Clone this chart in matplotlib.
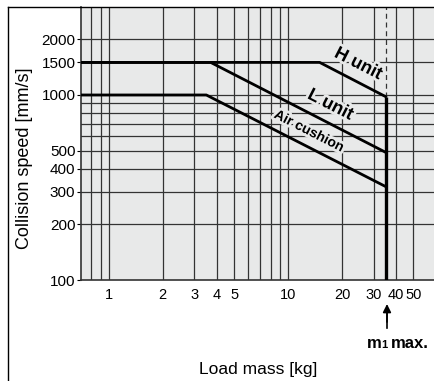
import numpy as np
import matplotlib.pyplot as plt
from matplotlib.lines import Line2D
import matplotlib.patheffects as pe

plt.rcParams['font.family'] = ['Liberation Sans', 'DejaVu Sans']

# ---- data ----
h_mass = [0.7, 15, 35]
h_speed = [1500, 1500, 980]
l_mass = [0.7, 3.7, 35]
l_speed = [1500, 1500, 490]
air_mass = [0.7, 3.5, 35]
air_speed = [1000, 1000, 320]
m1_max = 35

x_grid = [0.8, 0.9, 1, 2, 3, 4, 5, 6, 7, 8, 9, 10, 20, 30, 40, 50]
y_grid = [200, 300, 400, 500, 600, 700, 800, 900, 1000, 1500, 2000]
x_ticks = [1, 2, 3, 4, 5, 10, 20, 30, 40, 50]
y_ticks = [100, 200, 300, 400, 500, 1000, 1500, 2000]

BG = '#e8e9e9'
GRID = '#333333'

W, H = 435, 381
fig = plt.figure(figsize=(W / 100, H / 100), dpi=100)
ax = fig.add_axes([81 / W, 1 - 280 / H, 1 - 81 / W, (280 - 6.7) / H])
ax.set_facecolor(BG)
ax.set_xscale('log')
ax.set_yscale('log')
ax.set_xlim(0.7, 66)
ax.set_ylim(100, 3000)

for xv in x_grid:
    ax.axvline(xv, color=GRID, lw=0.9, zorder=1)
for yv in y_grid:
    ax.axhline(yv, color=GRID, lw=0.9, zorder=1)

# curves
ax.plot(h_mass, h_speed, color='black', lw=2, zorder=3)
ax.plot(l_mass, l_speed, color='black', lw=2, zorder=3)
ax.plot(air_mass, air_speed, color='black', lw=2, zorder=3)
ax.plot([m1_max, m1_max], [100, h_speed[-1]], color='black', lw=2.4, zorder=3,
        solid_capstyle='butt')
ax.plot([m1_max, m1_max], [h_speed[-1], 3000], color=GRID, lw=0.9,
        ls=(0, (4, 3)), zorder=2)

halo = [pe.withStroke(linewidth=4, foreground=BG)]
ax.text(24.6, 1471, 'H unit', rotation=-27, ha='center', va='center',
        fontsize=13, fontweight='bold', zorder=4, path_effects=halo)
ax.text(17.2, 883, 'L unit', rotation=-27, ha='center', va='center',
        fontsize=13, fontweight='bold', zorder=4, path_effects=halo)
ax.text(13.1, 639, 'Air cushion', rotation=-27, ha='center', va='center',
        fontsize=10, fontweight='bold', zorder=4, path_effects=halo)

ax.set_xticks(x_ticks)
ax.set_xticklabels([str(v) for v in x_ticks])
ax.set_yticks(y_ticks)
ax.set_yticklabels([str(v) for v in y_ticks])
ax.minorticks_off()
ax.tick_params(axis='x', length=0, pad=6, labelsize=10.5)
ax.tick_params(axis='y', length=3, pad=1, labelsize=11)

for s in ['top', 'right']:
    ax.spines[s].set_visible(False)
for s in ['left', 'bottom']:
    ax.spines[s].set_color(GRID)
    ax.spines[s].set_linewidth(1.2)

ax.set_xlabel('Load mass [kg]', fontsize=12.5)
ax.xaxis.set_label_coords(0.5, -0.3)
fig.text(25 / W, 1 - 158 / H, 'Collision speed [mm/s]', rotation=90,
         ha='center', va='center', fontsize=13)

# arrow and m1 max. label
fig.add_artist(Line2D([387 / W, 387 / W], [1 - 328 / H, 1 - 310 / H],
                      color='black', lw=1.2))
ax.annotate('', xy=(387 / W, 1 - 304 / H), xycoords='figure fraction',
            xytext=(387 / W, 1 - 322 / H), textcoords='figure fraction',
            arrowprops=dict(arrowstyle='-|>', color='black', lw=1.2,
                            mutation_scale=12, shrinkA=0, shrinkB=0))
fig.text(367 / W, 1 - 348 / H, 'm', fontsize=12, fontweight='bold',
         ha='left', va='baseline')
fig.text(381.5 / W, 1 - 348 / H, '1', fontsize=8, fontweight='bold',
         ha='left', va='baseline')
fig.text(391 / W, 1 - 348 / H, 'max.', fontsize=12, fontweight='bold',
         ha='left', va='baseline')

# outer frame
fig.add_artist(Line2D([8 / W, 8 / W], [0, 1 - 7 / H], color='black', lw=1))
fig.add_artist(Line2D([8 / W, 1], [1 - 7 / H, 1 - 7 / H], color='black', lw=1))

fig.savefig('out.png', dpi=100)
